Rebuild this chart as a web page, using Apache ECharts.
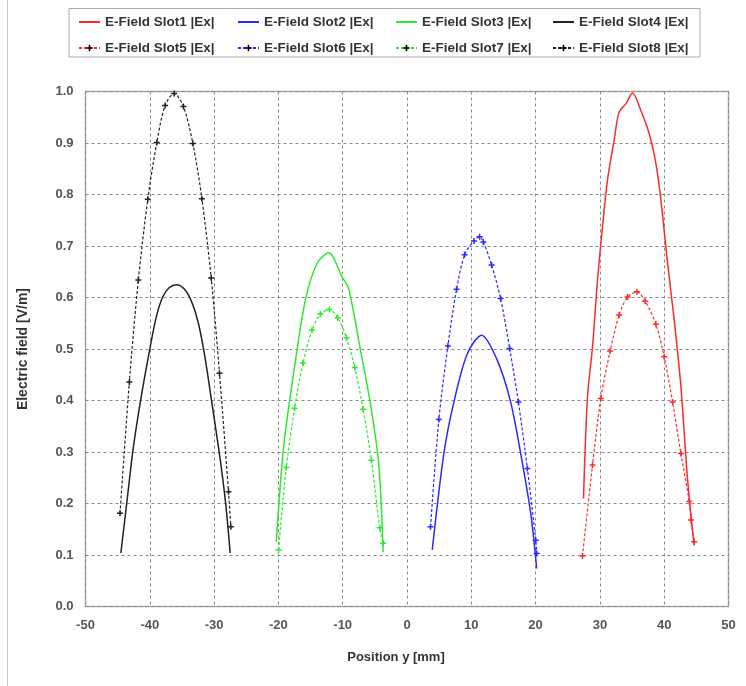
<!DOCTYPE html>
<html>
<head>
<meta charset="utf-8">
<title>E-Field</title>
<script src="https://cdn.jsdelivr.net/npm/echarts@6/dist/echarts.min.js"></script>
<style>
  html, body { margin: 0; padding: 0; background: #fff; }
  #chart { width: 746px; height: 686px; }
</style>
</head>
<body>
<div id="chart"></div>
<script>
// values, [position y mm, |Ex| V/m]
const slot1 = [[27.45, 0.21], [28.07, 0.407], [28.85, 0.504], [29.63, 0.634], [30.4, 0.737], [31.18, 0.828], [32.21, 0.905], [32.99, 0.96], [34.03, 0.976], [35.08, 0.997], [36.37, 0.963], [37.67, 0.918], [38.71, 0.86], [39.49, 0.789], [40.53, 0.666], [41.56, 0.556], [42.6, 0.427], [43.64, 0.246], [44.67, 0.119]]
const slot2 = [[3.93, 0.11], [5.73, 0.297], [7.29, 0.397], [9.38, 0.491], [11.6, 0.527], [14.05, 0.478], [16.12, 0.397], [17.68, 0.297], [19.24, 0.181], [20.17, 0.074]]
const slot3 = [[-20.33, 0.126], [-19.19, 0.31], [-17.63, 0.453], [-15.81, 0.595], [-13.99, 0.666], [-12.18, 0.687], [-10.1, 0.64], [-9.07, 0.617], [-7.24, 0.498], [-5.69, 0.394], [-4.4, 0.278], [-3.71, 0.106]]
const slot4 = [[-44.5, 0.104], [-43.5, 0.21], [-42.55, 0.31], [-41.3, 0.41], [-40.0, 0.5], [-39.0, 0.562], [-38.0, 0.601], [-37.0, 0.619], [-35.8, 0.625], [-34.6, 0.616], [-33.5, 0.592], [-32.5, 0.553], [-31.5, 0.49], [-30.4, 0.4], [-29.1, 0.29], [-28.2, 0.2], [-27.5, 0.104]]
const slot5 = [[27.29, 0.098], [28.85, 0.275], [30.14, 0.404], [31.59, 0.496], [32.99, 0.566], [34.3, 0.601], [35.75, 0.611], [37.04, 0.593], [38.71, 0.548], [40.0, 0.485], [41.31, 0.397], [42.6, 0.297], [43.9, 0.204], [44.16, 0.168], [44.67, 0.126]]
const slot6 = [[3.66, 0.155], [4.95, 0.363], [6.36, 0.506], [7.71, 0.616], [8.96, 0.683], [10.41, 0.71], [11.29, 0.718], [11.87, 0.708], [13.16, 0.663], [14.56, 0.598], [15.97, 0.501], [17.32, 0.397], [18.72, 0.268], [20.02, 0.129], [20.17, 0.103]]
const slot7 = [[-19.97, 0.11], [-18.77, 0.27], [-17.48, 0.385], [-16.17, 0.473], [-14.77, 0.537], [-13.47, 0.568], [-12.07, 0.577], [-10.78, 0.561], [-9.42, 0.522], [-8.13, 0.464], [-6.82, 0.383], [-5.53, 0.284], [-4.24, 0.153], [-3.71, 0.123]]
const slot8 = [[-44.63, 0.181], [-43.18, 0.436], [-41.78, 0.634], [-40.31, 0.791], [-38.91, 0.901], [-37.62, 0.973], [-36.21, 0.996], [-34.77, 0.971], [-33.3, 0.899], [-31.9, 0.792], [-30.45, 0.638], [-29.16, 0.453], [-27.76, 0.223], [-27.4, 0.155]]

const names = [1, 2, 3, 4, 5, 6, 7, 8].map((i) => `E-Field Slot${i} |Ex|`)
const values = [slot1, slot2, slot3, slot4, slot5, slot6, slot7, slot8]
const colors = ['#ff2a2a', '#2a2aff', '#2ee82e', '#222222']

const font = 'Liberation Sans, Arial, sans-serif'
const cross = 'path://M3,0h2v3h3v2h-3v3h-2v-3h-3v-2h3z'

const chart = echarts.init(document.getElementById('chart'), null, { renderer: 'canvas' })

const series = values.map((data, i) => {
  const dashed = i >= 4
  return {
    name: names[i],
    type: 'line',
    data,
    smooth: 0.3,
    symbol: dashed ? cross : 'none',
    symbolSize: 6,
    showSymbol: dashed,
    color: colors[i % 4],
    lineStyle: { width: dashed ? 1.2 : 1.5, type: dashed ? [3, 2] : 'solid', color: colors[i % 4] },
    itemStyle: { color: colors[i % 4] },
    emphasis: { disabled: true },
  }
})

// one legend per item so the columns line up as in the picture
const colX = [78, 237, 395, 552]
const rowY = [15, 41]
const legend = names.map((n, i) => ({
  data: [n],
  left: colX[i % 4],
  top: rowY[Math.floor(i / 4)],
  padding: 0,
  itemWidth: 21,
  itemHeight: 8,
  // solid series: plain line in the legend, no marker
  itemStyle: i < 4 ? { opacity: 0 } : undefined,
  textStyle: { fontFamily: font, fontSize: 13.5, fontWeight: 'bold', color: '#333' },
}))

chart.setOption({
  animation: false,
  backgroundColor: '#fff',
  legend,
  graphic: [
    { type: 'rect', shape: { x: 69, y: 8.5, width: 631, height: 48.5 }, style: { fill: 'none', stroke: '#aaa', lineWidth: 1 } },
    { type: 'line', shape: { x1: 7.5, y1: 0, x2: 7.5, y2: 686 }, style: { stroke: '#ccc', lineWidth: 1 } },
  ],
  grid: { left: 85.5, right: 17.5, top: 91.5, bottom: 79.4, show: true, borderColor: '#aaa', borderWidth: 1.5, backgroundColor: 'transparent' },
  xAxis: {
    type: 'value',
    min: -50,
    max: 50,
    interval: 10,
    name: 'Position y [mm]',
    nameLocation: 'middle',
    nameGap: 44,
    nameTextStyle: { fontFamily: font, fontSize: 13, fontWeight: 'bold', color: '#333', padding: [0, 22, 0, 0] },
    axisLine: { show: false },
    axisTick: { show: false },
    axisLabel: { fontFamily: font, fontSize: 13, fontWeight: 'bold', color: '#555', margin: 12 },
    splitLine: { lineStyle: { color: '#8a8a8a', type: [3, 3], width: 1 } },
  },
  yAxis: {
    type: 'value',
    min: 0,
    max: 1,
    interval: 0.1,
    name: 'Electric field [V/m]',
    nameLocation: 'middle',
    nameGap: 55,
    nameTextStyle: { fontFamily: font, fontSize: 14, fontWeight: 'bold', color: '#333' },
    axisLine: { show: false },
    axisTick: { show: false },
    axisLabel: { fontFamily: font, fontSize: 13, fontWeight: 'bold', color: '#555', margin: 12, formatter: (v) => v.toFixed(1) },
    splitLine: { lineStyle: { color: '#8a8a8a', type: [3, 3], width: 1 } },
  },
  series,
})
</script>
</body>
</html>
